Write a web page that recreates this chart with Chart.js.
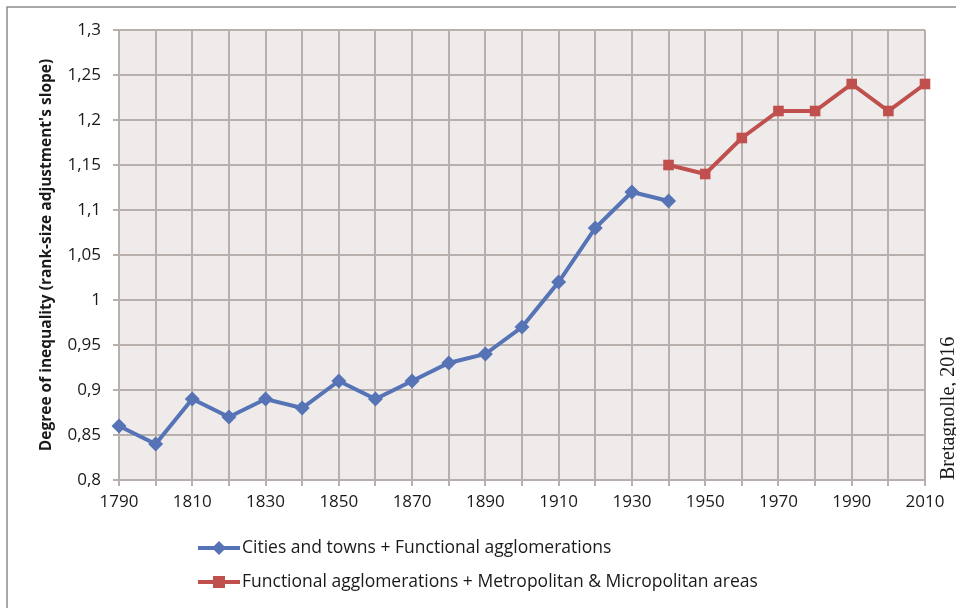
<!DOCTYPE html>
<html>
<head>
<meta charset="utf-8">
<script src="https://cdn.jsdelivr.net/npm/chart.js@4.4.1/dist/chart.umd.min.js"></script>
<style>
  html, body { margin: 0; padding: 0; background: #fff; }
  #wrap { width: 956px; height: 608px; position: relative; }
</style>
</head>
<body>
<div id="wrap"><canvas id="myChart" width="956" height="608"></canvas></div>
<script>
// data
const citiesYears = [1790, 1800, 1810, 1820, 1830, 1840, 1850, 1860, 1870, 1880, 1890, 1900, 1910, 1920, 1930, 1940]
const citiesValues = [0.86, 0.84, 0.89, 0.87, 0.89, 0.88, 0.91, 0.89, 0.91, 0.93, 0.94, 0.97, 1.02, 1.08, 1.12, 1.11]
const metroYears = [1940, 1950, 1960, 1970, 1980, 1990, 2000, 2010]
const metroValues = [1.15, 1.14, 1.18, 1.21, 1.21, 1.24, 1.21, 1.24]
const seriesLabels = [
    'Cities and towns + Functional agglomerations',
    'Functional agglomerations + Metropolitan & Micropolitan areas'
]
const yTitle = "Degree of inequality (rank-size adjustment's slope)"
const sourceNote = 'Bretagnolle, 2016'

const blue = '#5673b5'
const red = '#c0504d'
const gridColor = '#b8b0ad'
const font = '"Open Sans"'

const toPoints = (xs, ys) => xs.map((x, i) => ({x: x, y: ys[i]}))
const comma = v => Number(v.toFixed(2)).toString().replace('.', ',')

// background, frame, legend and source note
const decor = {
    id: 'decor',
    beforeDraw(chart) {
        const {ctx, chartArea: a} = chart
        ctx.save()
        ctx.fillStyle = '#fff'
        ctx.fillRect(0, 0, chart.width, chart.height)
        ctx.strokeStyle = '#8c8c8c'
        ctx.lineWidth = 1.5
        ctx.beginPath()
        ctx.moveTo(7, chart.height)
        ctx.lineTo(7, 7)
        ctx.lineTo(chart.width, 7)
        ctx.stroke()
        ctx.fillStyle = '#efebeb'
        ctx.fillRect(a.left, a.top, a.right - a.left, a.bottom - a.top)
        ctx.restore()
    },
    afterDraw(chart) {
        const {ctx} = chart
        ctx.save()
        const rows = [
            {y: 548, color: blue, style: 'diamond', text: seriesLabels[0]},
            {y: 582, color: red, style: 'square', text: seriesLabels[1]}
        ]
        rows.forEach(r => {
            ctx.strokeStyle = r.color
            ctx.lineWidth = 4
            ctx.beginPath()
            ctx.moveTo(198, r.y)
            ctx.lineTo(240, r.y)
            ctx.stroke()
            ctx.fillStyle = r.color
            if (r.style === 'diamond') {
                ctx.beginPath()
                ctx.moveTo(219, r.y - 7)
                ctx.lineTo(226, r.y)
                ctx.lineTo(219, r.y + 7)
                ctx.lineTo(212, r.y)
                ctx.closePath()
                ctx.fill()
            } else {
                ctx.fillRect(213, r.y - 6, 12, 12)
            }
            ctx.fillStyle = '#1a1a1a'
            ctx.font = '17.5px ' + font
            ctx.textBaseline = 'middle'
            ctx.textAlign = 'left'
            ctx.fillText(r.text, 242, r.y)
        })
        ctx.translate(949, 480)
        ctx.rotate(-Math.PI / 2)
        ctx.font = '20px "Liberation Serif"'
        ctx.fillStyle = '#1a1a1a'
        ctx.textBaseline = 'middle'
        ctx.fillText(sourceNote, 0, 0)
        ctx.restore()
    }
}

const ctx = document.getElementById('myChart').getContext('2d')
const chart = new Chart(ctx, {
    type: 'line',
    data: {
        datasets: [{
            label: seriesLabels[0],
            data: toPoints(citiesYears, citiesValues),
            borderColor: blue,
            backgroundColor: blue,
            borderWidth: 4,
            pointStyle: 'rectRot',
            pointRadius: 7.5,
            pointBorderWidth: 0,
            tension: 0,
            clip: false
        }, {
            label: seriesLabels[1],
            data: toPoints(metroYears, metroValues),
            borderColor: red,
            backgroundColor: red,
            borderWidth: 4,
            pointStyle: 'rect',
            pointRadius: 7.5,
            pointBorderWidth: 0,
            tension: 0,
            clip: false
        }]
    },
    options: {
        responsive: false,
        animation: false,
        layout: {padding: {left: 30, top: 30, right: 31, bottom: 0}},
        plugins: {legend: {display: false}, tooltip: {enabled: false}},
        scales: {
            x: {
                type: 'linear',
                min: 1790,
                max: 2010,
                afterFit(scale) { scale.height = 128 },
                grid: {color: gridColor, lineWidth: 2, tickLength: 6, tickColor: gridColor},
                border: {color: gridColor, width: 2},
                ticks: {
                    stepSize: 10,
                    autoSkip: false,
                    maxRotation: 0,
                    padding: 6,
                    color: '#1a1a1a',
                    font: {family: font, size: 17},
                    callback: v => ((v - 1790) % 20 === 0 ? String(v) : '')
                }
            },
            y: {
                min: 0.8,
                max: 1.3,
                afterFit(scale) { scale.width = 89 },
                grid: {color: gridColor, lineWidth: 2, tickLength: 6, tickColor: gridColor},
                border: {color: gridColor, width: 2},
                ticks: {
                    stepSize: 0.05,
                    padding: 12,
                    color: '#1a1a1a',
                    font: {family: font, size: 17},
                    callback: v => comma(v)
                },
                title: {
                    display: true,
                    text: yTitle,
                    color: '#1a1a1a',
                    font: {family: font, size: 15.5, weight: 'bold'},
                    padding: {top: 7, bottom: 0}
                }
            }
        }
    },
    plugins: [decor]
})
</script>
</body>
</html>
